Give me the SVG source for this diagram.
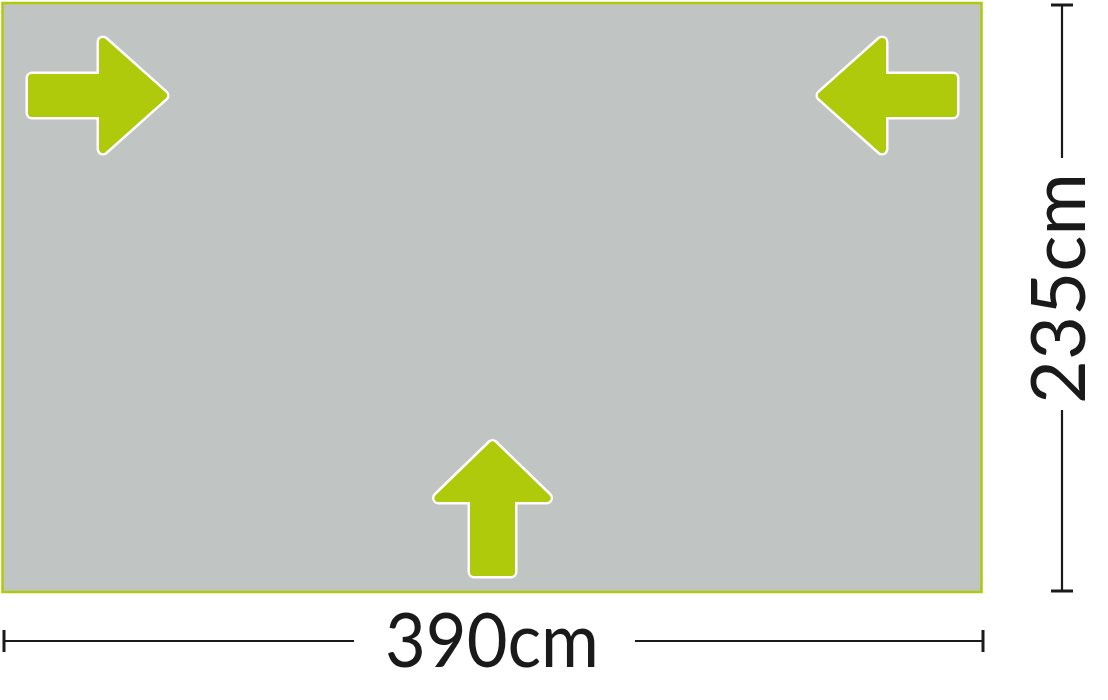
<svg xmlns="http://www.w3.org/2000/svg" width="1108" height="700" viewBox="0 0 1108 700">
  <defs>
    <style>
      .bg { fill: #ffffff; }
      .floor { fill: #c0c4c3; stroke: #afca0b; stroke-width: 2.5; }
      .arr-out { fill: #ffffff; stroke: #ffffff; stroke-width: 13; stroke-linejoin: round; }
      .arr-in { fill: #afca0b; stroke: #afca0b; stroke-width: 8; stroke-linejoin: round; }
      .dim { stroke: #1a1a1a; stroke-width: 2.2; fill: none; }
      .cap { stroke: #1a1a1a; stroke-width: 3; fill: none; }
      .lbl { font-family: Lato, "Liberation Sans", sans-serif; font-weight: 400; font-size: 75px; fill: #1a1a1a; }
    </style>
    <path id="sideArrow" d="M32,78 L103,78 L103,41.9 L163,95.5 L103,149.1 L103,113 L32,113 Z"/>
    <path id="upArrow" d="M474,572 L474,498 L438.4,498 L492.5,445.5 L546.6,498 L511,498 L511,572 Z"/>
  </defs>
  <rect class="bg" x="0" y="0" width="1108" height="700"/>
  <g id="floor">
    <rect class="floor" x="2.5" y="3" width="979" height="589"/>
  </g>
  <g id="arrow-left">
    <use href="#sideArrow" class="arr-out"/>
    <use href="#sideArrow" class="arr-in"/>
  </g>
  <g id="arrow-right" transform="translate(985,0) scale(-1,1)">
    <use href="#sideArrow" class="arr-out"/>
    <use href="#sideArrow" class="arr-in"/>
  </g>
  <g id="arrow-bottom">
    <use href="#upArrow" class="arr-out"/>
    <use href="#upArrow" class="arr-in"/>
  </g>
  <g id="connectors">
    <line class="dim" x1="1062" y1="5" x2="1062" y2="158"/>
    <line class="cap" x1="1051" y1="5" x2="1073" y2="5"/>
    <line class="dim" x1="1062" y1="410" x2="1062" y2="591"/>
    <line class="cap" x1="1051" y1="591" x2="1073" y2="591"/>
    <line class="dim" x1="4" y1="641" x2="354" y2="641"/>
    <line class="cap" x1="4" y1="630" x2="4" y2="652"/>
    <line class="dim" x1="635" y1="641" x2="983" y2="641"/>
    <line class="cap" x1="983" y1="630" x2="983" y2="652"/>
  </g>
  <g id="label-width">
    <text class="lbl" x="492" y="667" text-anchor="middle" textLength="214" lengthAdjust="spacingAndGlyphs">390cm</text>
  </g>
  <g id="label-height">
    <text class="lbl" transform="translate(1085,288.5) rotate(-90)" x="0" y="0" text-anchor="middle" textLength="231" lengthAdjust="spacingAndGlyphs">235cm</text>
  </g>
</svg>
